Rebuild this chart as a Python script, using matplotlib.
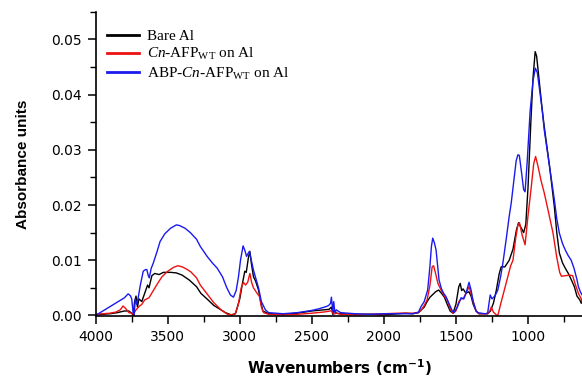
import matplotlib
matplotlib.use('Agg')
import matplotlib.pyplot as plt
from matplotlib.ticker import MultipleLocator, FormatStrFormatter

# Values (wavenumber cm-1, absorbance)
bare_wn = [4000, 3950, 3900, 3850, 3800, 3770, 3750, 3740, 3730, 3720, 3710, 3700, 3680, 3660,
           3640, 3630, 3610, 3590, 3560, 3530, 3480, 3440, 3400, 3350, 3300, 3270, 3220, 3180,
           3130, 3100, 3060, 3030, 3000, 2980, 2965, 2955, 2940, 2930, 2920, 2905, 2890, 2870,
           2855, 2840, 2800, 2700, 2600, 2500, 2420, 2380, 2365, 2355, 2345, 2330, 2300, 2200,
           2100, 2000, 1900, 1850, 1800, 1760, 1740, 1720, 1700, 1680, 1660, 1640, 1620, 1600,
           1580, 1560, 1540, 1520, 1500, 1480, 1470, 1460, 1450, 1430, 1410, 1395, 1380, 1360,
           1340, 1280, 1260, 1240, 1220, 1200, 1186, 1160, 1130, 1104, 1080, 1065, 1050, 1030,
           1015, 1000, 980, 965, 950, 940, 920, 900, 887, 850, 817, 800, 782, 760, 740, 722,
           700, 678, 660, 640, 630, 620]
bare_abs = [0.0000, 0.0002, 0.0003, 0.0005, 0.0008, 0.0008, 0.0004, 0.0000, 0.0025, 0.0035,
            0.0015, 0.0030, 0.0025, 0.0040, 0.0055, 0.0050, 0.0072, 0.0076, 0.0074, 0.0078,
            0.0078, 0.0077, 0.0073, 0.0064, 0.0052, 0.0040, 0.0028, 0.0018, 0.0010, 0.0005,
            0.0001, 0.0003, 0.0030, 0.0060, 0.0080, 0.0078, 0.0105, 0.0116, 0.0095, 0.0070,
            0.0062, 0.0046, 0.0025, 0.0008, 0.0003, 0.0002, 0.0004, 0.0008, 0.0010, 0.0011,
            0.0015, 0.0002, 0.0010, 0.0004, 0.0003, 0.0002, 0.0002, 0.0001, 0.0003, 0.0004,
            0.0003, 0.0005, 0.0010, 0.0015, 0.0025, 0.0033, 0.0038, 0.0043, 0.0046, 0.0040,
            0.0033, 0.0020, 0.0008, 0.0004, 0.0020, 0.0052, 0.0058, 0.0045, 0.0048, 0.0040,
            0.0043, 0.0035, 0.0020, 0.0008, 0.0003, 0.0003, 0.0008, 0.0022, 0.0045, 0.0075,
            0.0088, 0.0088, 0.0100, 0.0120, 0.0155, 0.0168, 0.0160, 0.0150, 0.0165, 0.0230,
            0.0350, 0.0430, 0.0478, 0.0470, 0.0420, 0.0370, 0.0342, 0.0270, 0.0197, 0.0150,
            0.0113, 0.0095, 0.0085, 0.0077, 0.0065, 0.0052, 0.0035, 0.0028, 0.0022, 0.0030]

cn_wn = [4000, 3950, 3900, 3860, 3830, 3810, 3790, 3770, 3750, 3740, 3720, 3700, 3680, 3660,
         3630, 3600, 3570, 3540, 3500, 3460, 3430, 3400, 3370, 3340, 3300, 3274, 3230, 3180,
         3130, 3085, 3050, 3030, 3010, 2990, 2975, 2960, 2945, 2930, 2918, 2905, 2885, 2863,
         2850, 2835, 2800, 2700, 2600, 2500, 2420, 2370, 2360, 2350, 2330, 2300, 2200, 2100,
         2000, 1900, 1800, 1760, 1740, 1720, 1700, 1680, 1665, 1655, 1640, 1625, 1603, 1580,
         1560, 1540, 1520, 1500, 1480, 1464, 1450, 1430, 1409, 1395, 1380, 1360, 1340, 1280,
         1265, 1255, 1240, 1220, 1209, 1190, 1164, 1140, 1120, 1104, 1085, 1070, 1059, 1040,
         1020, 1000, 977, 960, 947, 930, 910, 887, 860, 826, 800, 780, 768, 740, 710, 690,
         670, 650, 630, 620]
cn_abs = [0.0002, 0.0003, 0.0004, 0.0006, 0.0010, 0.0017, 0.0012, 0.0005, 0.0004, 0.0002,
          0.0010, 0.0016, 0.0020, 0.0028, 0.0032, 0.0045, 0.0058, 0.0070, 0.0080, 0.0087,
          0.0090, 0.0088, 0.0084, 0.0079, 0.0068, 0.0055, 0.0040, 0.0023, 0.0010, 0.0002,
          0.0001, 0.0004, 0.0020, 0.0050, 0.0060, 0.0055, 0.0060, 0.0076, 0.0060, 0.0050,
          0.0042, 0.0034, 0.0015, 0.0005, 0.0002, 0.0001, 0.0002, 0.0004, 0.0006, 0.0008,
          0.0010, 0.0002, 0.0004, 0.0002, 0.0001, 0.0002, 0.0003, 0.0004, 0.0004, 0.0005,
          0.0010, 0.0018, 0.0028, 0.0055, 0.0088, 0.0090, 0.0075, 0.0058, 0.0046, 0.0035,
          0.0028, 0.0012, 0.0004, 0.0008, 0.0025, 0.0030, 0.0030, 0.0040, 0.0052, 0.0040,
          0.0025, 0.0008, 0.0003, 0.0003, 0.0008, 0.0015, 0.0006, 0.0001, 0.0000, 0.0020,
          0.0046, 0.0070, 0.0090, 0.0100, 0.0140, 0.0164, 0.0168, 0.0145, 0.0128, 0.0180,
          0.0233, 0.0275, 0.0288, 0.0270, 0.0245, 0.0222, 0.0190, 0.0149, 0.0105, 0.0078,
          0.0071, 0.0072, 0.0073, 0.0072, 0.0055, 0.0040, 0.0030, 0.0022]

abp_wn = [4000, 3950, 3900, 3850, 3800, 3775, 3760, 3750, 3740, 3733, 3725, 3715, 3705, 3690,
          3670, 3655, 3645, 3635, 3628, 3615, 3600, 3575, 3553, 3520, 3480, 3440, 3420, 3380,
          3343, 3300, 3274, 3227, 3190, 3158, 3120, 3090, 3065, 3044, 3025, 3009, 2995, 2977,
          2965, 2953, 2943, 2933, 2920, 2905, 2890, 2870, 2850, 2822, 2800, 2700, 2600, 2500,
          2450, 2400, 2383, 2370, 2364, 2355, 2348, 2340, 2330, 2300, 2200, 2100, 2000, 1900,
          1800, 1760, 1742, 1720, 1696, 1680, 1670, 1661, 1650, 1638, 1617, 1600, 1585, 1569,
          1545, 1525, 1513, 1490, 1464, 1445, 1430, 1409, 1395, 1380, 1360, 1348, 1300, 1280,
          1262, 1250, 1230, 1209, 1190, 1174, 1150, 1130, 1116, 1095, 1082, 1070, 1060, 1045,
          1030, 1020, 1005, 985, 965, 949, 935, 915, 900, 887, 850, 817, 800, 782, 760, 740,
          720, 700, 680, 660, 650, 635, 617]
abp_abs = [0.0000, 0.0008, 0.0016, 0.0024, 0.0032, 0.0039, 0.0036, 0.0030, 0.0005, 0.0000,
           0.0030, 0.0020, 0.0032, 0.0055, 0.0080, 0.0083, 0.0083, 0.0072, 0.0068, 0.0085,
           0.0095, 0.0115, 0.0134, 0.0148, 0.0158, 0.0164, 0.0163, 0.0158, 0.0150, 0.0138,
           0.0125, 0.0107, 0.0095, 0.0086, 0.0070, 0.0050, 0.0037, 0.0033, 0.0045, 0.0070,
           0.0100, 0.0126, 0.0118, 0.0107, 0.0112, 0.0116, 0.0100, 0.0082, 0.0068, 0.0050,
           0.0025, 0.0010, 0.0005, 0.0003, 0.0005, 0.0009, 0.0012, 0.0016, 0.0018, 0.0022,
           0.0033, 0.0008, 0.0025, 0.0005, 0.0010, 0.0005, 0.0003, 0.0002, 0.0003, 0.0003,
           0.0003, 0.0006, 0.0016, 0.0025, 0.0046, 0.0090, 0.0125, 0.0140, 0.0132, 0.0119,
           0.0064, 0.0048, 0.0040, 0.0034, 0.0020, 0.0008, 0.0005, 0.0015, 0.0032, 0.0030,
           0.0040, 0.0060, 0.0046, 0.0025, 0.0008, 0.0005, 0.0003, 0.0004, 0.0037, 0.0030,
           0.0035, 0.0046, 0.0070, 0.0095, 0.0140, 0.0180, 0.0204, 0.0250, 0.0280, 0.0291,
           0.0290, 0.0260, 0.0228, 0.0224, 0.0280, 0.0370, 0.0425, 0.0448, 0.0440, 0.0400,
           0.0370, 0.0336, 0.0270, 0.0210, 0.0175, 0.0149, 0.0130, 0.0118, 0.0108, 0.0100,
           0.0085, 0.0065, 0.0052, 0.0042, 0.0034]

labels = ['Bare Al',
          r'$\mathit{Cn}$-AFP$_{\mathrm{WT}}$ on Al',
          r'ABP-$\mathit{Cn}$-AFP$_{\mathrm{WT}}$ on Al']

plt.rcParams['mathtext.fontset'] = 'custom'
plt.rcParams['mathtext.rm'] = 'Liberation Serif'
plt.rcParams['mathtext.it'] = 'Liberation Serif:italic'
plt.rcParams['mathtext.bf'] = 'Liberation Serif:bold'

fig = plt.figure(figsize=(5.82, 3.78), dpi=100)
ax = fig.add_axes([0.1644, 0.1627, 0.8356, 0.8058])

ax.plot(bare_wn, bare_abs, color='black', linewidth=1.0, label=labels[0])
ax.plot(cn_wn, cn_abs, color='#ee1111', linewidth=1.0, label=labels[1])
ax.plot(abp_wn, abp_abs, color='#1a1aee', linewidth=1.0, label=labels[2])

ax.set_xlim(4000, 625)
ax.set_ylim(-0.0002, 0.055)

ax.xaxis.set_major_locator(MultipleLocator(500))
ax.xaxis.set_minor_locator(MultipleLocator(250))
ax.yaxis.set_major_locator(MultipleLocator(0.01))
ax.yaxis.set_minor_locator(MultipleLocator(0.005))
ax.yaxis.set_major_formatter(FormatStrFormatter('%.2f'))

for side in ['top', 'right']:
    ax.spines[side].set_visible(False)
for side in ['left', 'bottom']:
    ax.spines[side].set_linewidth(1.2)

ax.tick_params(which='major', direction='out', length=6, width=1.1, labelsize=10, pad=4)
ax.tick_params(which='minor', direction='out', length=4, width=1.0)
for lbl in ax.get_xticklabels() + ax.get_yticklabels():
    lbl.set_family('DejaVu Sans')

ax.set_xlabel(r'Wavenumbers (cm$^{\mathbf{-1}}$)', fontsize=11, fontweight='bold',
              family='DejaVu Sans', labelpad=9)
ax.xaxis.label.set_math_fontfamily('dejavusans')
ax.set_ylabel('Absorbance units', fontsize=11, fontweight='bold',
              family='Liberation Sans', labelpad=15)

leg = ax.legend(loc='upper left', bbox_to_anchor=(0.0107, 0.962), frameon=False,
                prop={'family': 'Liberation Serif', 'size': 11},
                handlelength=2.1, handletextpad=0.5, labelspacing=0.2,
                borderaxespad=0.0)
for line in leg.get_lines():
    line.set_linewidth(2.0)

fig.savefig('out.png', dpi=100)
